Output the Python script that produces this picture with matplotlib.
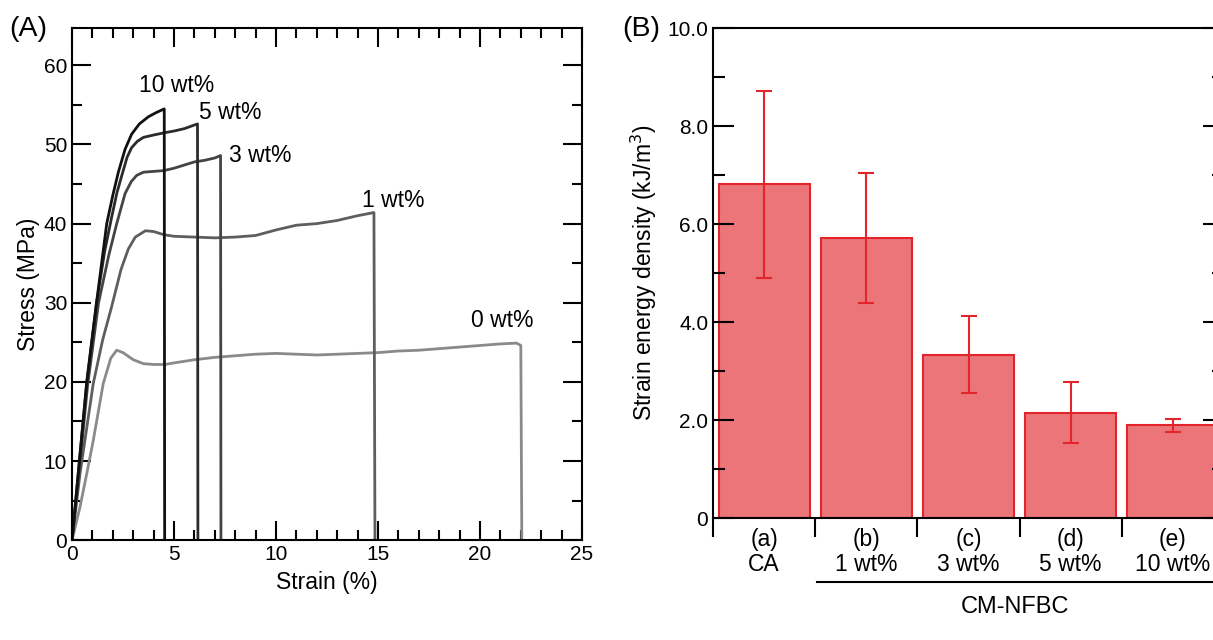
import numpy as np
import matplotlib
matplotlib.use("Agg")
import matplotlib.pyplot as plt
from matplotlib.ticker import MultipleLocator, FixedLocator, NullFormatter

plt.rcParams['font.family'] = ['Liberation Sans', 'DejaVu Sans']

# (A) stress-strain curves
strain_10 = [0, 0.36, 0.72, 1.2, 1.7, 2.0, 2.27, 2.6, 2.92, 3.3, 3.74, 4.1, 4.52, 4.54]
stress_10 = [0, 10, 20, 30, 40, 43.6, 46.5, 49.4, 51.3, 52.6, 53.5, 54.0, 54.5, 0]

strain_5 = [0, 0.36, 0.72, 1.2, 1.6, 1.94, 2.2, 2.43, 2.7, 2.92, 3.2, 3.5, 4.0, 4.56, 5.0, 5.5, 6.15, 6.17]
stress_5 = [0, 10, 19.8, 30, 36.5, 40.8, 43.9, 46.0, 48.4, 49.6, 50.4, 50.9, 51.2, 51.5, 51.7, 52.0, 52.6, 0]

strain_3 = [0, 0.4, 0.76, 1.3, 1.8, 2.19, 2.6, 2.9, 3.17, 3.5, 4.0, 4.5, 5.0, 5.5, 6.0, 6.5, 7.0, 7.28, 7.3]
stress_3 = [0, 10, 19.5, 30, 36.0, 40.0, 43.8, 45.3, 46.1, 46.5, 46.6, 46.7, 47.0, 47.4, 47.8, 48.0, 48.3,
            48.6, 0]

strain_1 = [0, 0.39, 1.04, 1.5, 1.94, 2.4, 2.76, 3.1, 3.6, 4.0, 4.5, 5, 6, 7, 8, 9, 10, 11, 12, 13, 14,
            14.8, 14.85]
stress_1 = [0, 8.4, 19.8, 25.3, 29.5, 34.2, 36.8, 38.3, 39.1, 39.0, 38.6, 38.4, 38.3, 38.2, 38.3, 38.5,
            39.2, 39.8, 40.0, 40.4, 41.0, 41.4, 0]

strain_0 = [0, 0.39, 0.72, 1.04, 1.53, 1.9, 2.19, 2.5, 3.0, 3.5, 4.0, 4.56, 5, 6, 7, 8, 9, 10, 11, 12, 13,
            14, 15, 16, 17, 18, 19, 20, 21, 21.8, 22.0, 22.05]
stress_0 = [0, 4.2, 8.4, 12.6, 19.8, 23.0, 24.0, 23.7, 22.8, 22.3, 22.2, 22.2, 22.4, 22.8, 23.1, 23.3,
            23.5, 23.6, 23.5, 23.4, 23.5, 23.6, 23.7, 23.9, 24.0, 24.2, 24.4, 24.6, 24.8, 24.9, 24.6, 0]

curve_labels = ["10 wt%", "5 wt%", "3 wt%", "1 wt%", "0 wt%"]
curve_colors = ["#111111", "#2b2b2b", "#444444", "#5e5e5e", "#8a8a8a"]

# (B) strain energy density
bar_labels = ["(a)\nCA", "(b)\n1 wt%", "(c)\n3 wt%", "(d)\n5 wt%", "(e)\n10 wt%"]
energy = [6.82, 5.72, 3.34, 2.15, 1.89]
energy_err = [1.91, 1.33, 0.78, 0.62, 0.14]


def main():
    fig = plt.figure(figsize=(12.13, 6.4), dpi=100)

    # ---- panel A
    ax = fig.add_axes([0.0594, 0.156, 0.4204, 0.8])
    curves = [(strain_10, stress_10), (strain_5, stress_5), (strain_3, stress_3),
              (strain_1, stress_1), (strain_0, stress_0)]
    # lighter curves first so the dark ones sit on top
    for (x, y), c in reversed(list(zip(curves, curve_colors))):
        ax.plot(x, y, color=c, lw=2.0, solid_joinstyle="round", solid_capstyle="round")
    ax.set_xlim(0, 25)
    ax.set_ylim(0, 64.7)
    ax.xaxis.set_major_locator(MultipleLocator(5))
    ax.xaxis.set_minor_locator(MultipleLocator(1))
    ax.yaxis.set_major_locator(MultipleLocator(10))
    ax.yaxis.set_minor_locator(MultipleLocator(5))
    ax.tick_params(which="both", direction="in", top=True, right=True, width=1.5, labelsize=15)
    ax.tick_params(which="major", length=14)
    ax.tick_params(which="minor", length=7.5)
    for s in ax.spines.values():
        s.set_linewidth(1.5)
    ax.set_xlabel("Strain (%)", fontsize=16.5, labelpad=5)
    ax.set_ylabel("Stress (MPa)", fontsize=16.5, labelpad=3)

    txt_pos = [(3.3, 57.4), (6.2, 54.0), (7.7, 48.6), (14.2, 42.9), (19.55, 27.8)]
    for lab, (tx, ty) in zip(curve_labels, txt_pos):
        ax.text(tx, ty, lab, fontsize=16.5, va="center", ha="left")
    fig.text(0.008, 0.955, "(A)", fontsize=20.5, va="center", ha="left")

    # ---- panel B
    bx = fig.add_axes([0.5878, 0.1906, 0.4213, 0.7649])
    pos = np.arange(len(energy))
    bx.bar(pos, energy, width=0.89, color="#eb7579", edgecolor="#e3242b", linewidth=1.5,
           yerr=energy_err, ecolor="#e3242b", error_kw=dict(elinewidth=1.5, capsize=6, capthick=1.5))
    bx.set_xlim(-0.5, 4.5)
    bx.set_ylim(0, 10)
    bx.yaxis.set_major_locator(FixedLocator([0, 2, 4, 6, 8, 10]))
    bx.yaxis.set_minor_locator(MultipleLocator(1))
    bx.set_yticklabels(["0", "2.0", "4.0", "6.0", "8.0", "10.0"])
    bx.tick_params(axis="y", which="both", direction="in", right=True, width=1.5, labelsize=15)
    bx.tick_params(axis="y", which="major", length=15)
    bx.tick_params(axis="y", which="minor", length=8.5)
    bx.set_xticks(pos)
    bx.set_xticklabels(bar_labels, fontsize=16.5, linespacing=1.1)
    bx.xaxis.set_minor_locator(FixedLocator(np.arange(-0.5, 4.6, 1.0)))
    bx.xaxis.set_minor_formatter(NullFormatter())
    bx.tick_params(axis="x", which="major", length=0, pad=7)
    bx.tick_params(axis="x", which="minor", direction="out", length=14, width=1.5)
    for s in bx.spines.values():
        s.set_linewidth(1.5)
    bx.set_ylabel("Strain energy density (kJ/m$^3$)", fontsize=16.5, labelpad=6)

    trans = bx.get_xaxis_transform()
    bx.plot([0.52, 4.6], [-0.131, -0.131], color="black", lw=1.5, transform=trans, clip_on=False)
    bx.text(2.45, -0.182, "CM-NFBC", fontsize=17, ha="center", va="center", transform=trans)
    fig.text(0.513, 0.955, "(B)", fontsize=20.5, va="center", ha="left")

    fig.savefig("out.png", dpi=100)


if __name__ == "__main__":
    main()
